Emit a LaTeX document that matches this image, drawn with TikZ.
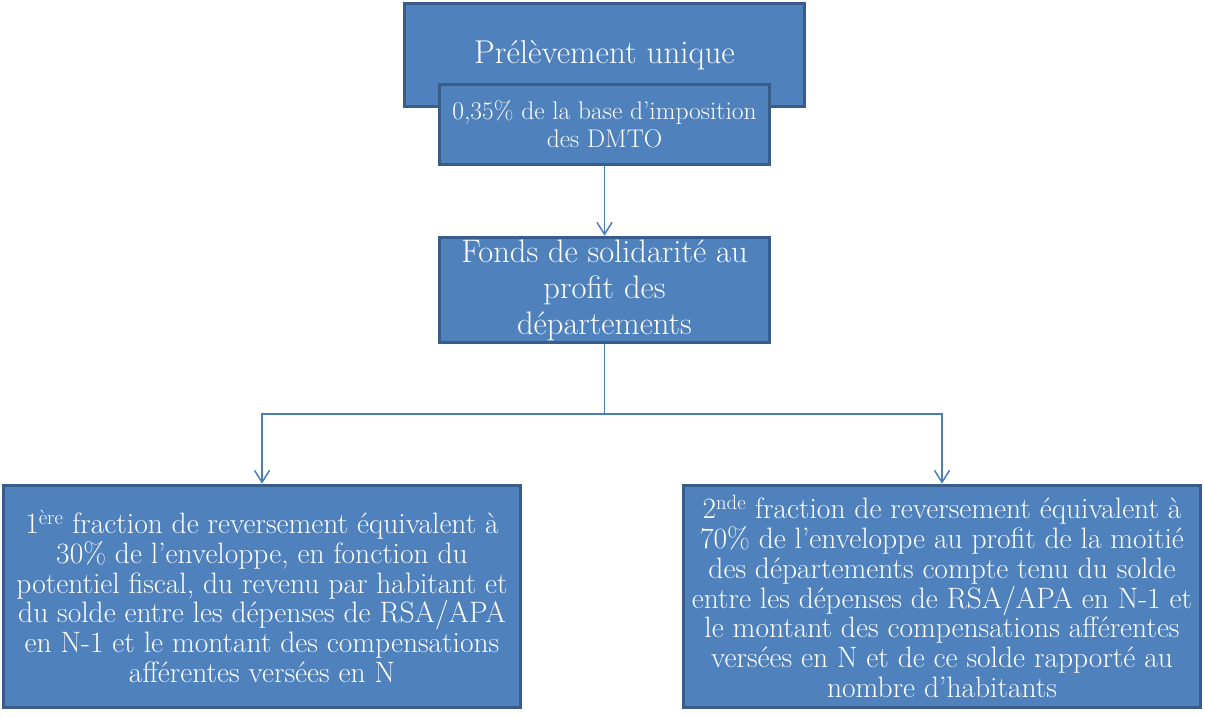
\documentclass[tikz,border=0pt]{standalone}
\usetikzlibrary{arrows.meta}
\definecolor{boxfill}{HTML}{4F81BD}
\definecolor{boxline}{HTML}{385D8A}
\definecolor{connc}{HTML}{4A7EBB}
\begin{document}
\begin{tikzpicture}[x=1pt,y=-1pt,
  box/.style={draw=boxline, fill=boxfill, line width=3.5pt, text=white, align=center, inner sep=0pt},
  conn/.style={draw=connc, line width=1.5pt},
  arr/.style={conn, -{Straight Barb[length=12pt,width=15pt,line width=1.5pt]}},
  bigtext/.style={font=\fontsize{29.5}{29.7}\selectfont}]
\useasboundingbox (0,0) rectangle (1205,717);
\node[box, minimum width=400pt, minimum height=103pt, font=\fontsize{33}{38}\selectfont] (top) at (604.5,55) {Prélèvement unique};
\node[box, minimum width=330pt, minimum height=80pt, font=\fontsize{25.5}{28}\selectfont] (sub) at (604.5,124.5) {0,35\% de la base d’imposition\\des DMTO};
\node[box, minimum width=330pt, minimum height=105pt, font=\fontsize{32.5}{36}\selectfont] (fonds) at (604.5,290) {Fonds de solidarité au\\profit des\\départements};
\node[box, bigtext, minimum width=517pt, minimum height=222pt] (left) at (262,596.5) {1\textsuperscript{ère} fraction de reversement équivalent à\\30\% de l’enveloppe, en fonction du\\potentiel fiscal, du revenu par habitant et\\du solde entre les dépenses de RSA/APA\\en N-1 et le montant des compensations\\afférentes versées en N};
\node[box, bigtext, minimum width=517pt, minimum height=222pt] (right) at (942,596.5) {2\textsuperscript{nde} fraction de reversement équivalent à\\70\% de l’enveloppe au profit de la moitié\\des départements compte tenu du solde\\entre les dépenses de RSA/APA en N-1 et\\le montant des compensations afférentes\\versées en N et de ce solde rapporté au\\nombre d’habitants};
\coordinate (j) at (604.5,414);
\draw[arr] (sub.south) -- (fonds.north);
\draw[conn] (fonds.south) -- (j);
\draw[arr] (j) -| (left.north);
\draw[arr] (j) -| (right.north);
\end{tikzpicture}
\end{document}
